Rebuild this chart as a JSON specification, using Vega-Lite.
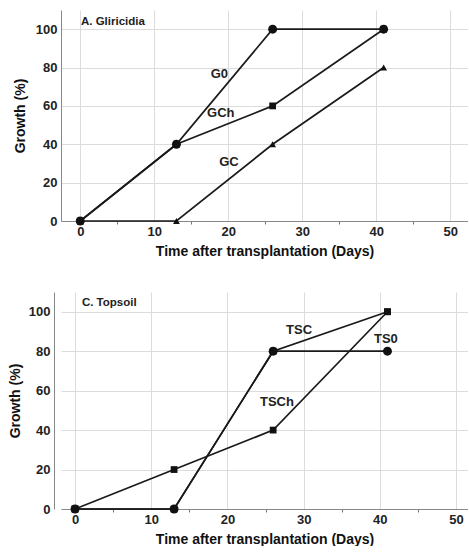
{
  "$schema": "https://vega.github.io/schema/vega-lite/v6.json",
  "padding": {"left": 8, "top": 10, "right": 0, "bottom": 0},
  "spacing": 34,
  "config": {
    "view": {"stroke": null},
    "font": "Liberation Sans",
    "axis": {
      "labelFontSize": 13, "labelFontWeight": "bold", "labelColor": "#222",
      "titleFontSize": 14, "titleFontWeight": "bold", "titleColor": "#111",
      "domainColor": "#888", "gridColor": "#dcdcdc", "tickColor": "#777",
      "tickSize": 3, "labelPadding": 1
    }
  },
  "datasets": {
    "gl": [
      {"series": "GCh", "day": 0, "growth": 0}, {"series": "GCh", "day": 13, "growth": 40}, {"series": "GCh", "day": 26, "growth": 60}, {"series": "GCh", "day": 41, "growth": 100},
      {"series": "GC", "day": 0, "growth": 0}, {"series": "GC", "day": 13, "growth": 0}, {"series": "GC", "day": 26, "growth": 40}, {"series": "GC", "day": 41, "growth": 80},
      {"series": "G0", "day": 0, "growth": 0}, {"series": "G0", "day": 13, "growth": 40}, {"series": "G0", "day": 26, "growth": 100}, {"series": "G0", "day": 41, "growth": 100}
    ],
    "glLabels": [
      {"text": "G0", "day": 18.8, "growth": 76.5},
      {"text": "GCh", "day": 19.0, "growth": 56.5},
      {"text": "GC", "day": 20.1, "growth": 30.5}
    ],
    "ts": [
      {"series": "TSC", "day": 0, "growth": 0}, {"series": "TSC", "day": 13, "growth": 0}, {"series": "TSC", "day": 26, "growth": 80}, {"series": "TSC", "day": 41, "growth": 100},
      {"series": "TSCh", "day": 0, "growth": 0}, {"series": "TSCh", "day": 13, "growth": 20}, {"series": "TSCh", "day": 26, "growth": 40}, {"series": "TSCh", "day": 41, "growth": 100},
      {"series": "TS0", "day": 0, "growth": 0}, {"series": "TS0", "day": 13, "growth": 0}, {"series": "TS0", "day": 26, "growth": 80}, {"series": "TS0", "day": 41, "growth": 80}
    ],
    "tsLabels": [
      {"text": "TSC", "day": 29.4, "growth": 90.7},
      {"text": "TS0", "day": 40.8, "growth": 86.1},
      {"text": "TSCh", "day": 26.5, "growth": 54}
    ]
  },
  "vconcat": [
    {
      "width": 407, "height": 211,
      "layer": [
        {
          "data": {"name": "gl"},
          "mark": {"type": "line", "color": "#1a1a1a", "strokeWidth": 1.7},
          "encoding": {
            "x": {"field": "day", "type": "quantitative", "scale": {"domain": [-2.6, 52.4], "nice": false},
              "axis": {"values": [0,5,10,15,20,25,30,35,40,45,50], "labelExpr": "datum.value % 10 == 0 ? datum.label : ''",
                "gridOpacity": {"condition": {"test": "datum.value % 10 != 0", "value": 0}, "value": 1},
                "tickOpacity": {"condition": {"test": "datum.value % 10 == 0", "value": 0}, "value": 1},
                "title": "Time after transplantation (Days)", "titlePadding": 6}},
            "y": {"field": "growth", "type": "quantitative", "scale": {"domain": [0, 110], "nice": false},
              "axis": {"values": [0,10,20,30,40,50,60,70,80,90,100], "labelExpr": "datum.value % 20 == 0 ? datum.label : ''",
                "gridOpacity": {"condition": {"test": "datum.value % 20 != 0", "value": 0}, "value": 1},
                "tickOpacity": {"condition": {"test": "datum.value % 20 == 0", "value": 0}, "value": 1},
                "title": "Growth (%)", "titlePadding": 8}},
            "detail": {"field": "series"}
          }
        },
        {
          "data": {"name": "gl"},
          "transform": [{"filter": {"field": "series", "oneOf": ["GCh", "GC"]}}],
          "mark": {"type": "point", "filled": true, "color": "#111", "opacity": 1, "size": 46},
          "encoding": {
            "x": {"field": "day", "type": "quantitative"},
            "y": {"field": "growth", "type": "quantitative"},
            "shape": {"field": "series", "scale": {"domain": ["GCh", "GC", "TSC", "TSCh"], "range": ["square", "triangle-up", "square", "square"]}, "legend": null}
          }
        },
        {
          "data": {"name": "gl"},
          "transform": [{"filter": {"field": "series", "equal": "G0"}}],
          "mark": {"type": "point", "filled": true, "color": "#111", "opacity": 1, "size": 80, "shape": "circle"},
          "encoding": {
            "x": {"field": "day", "type": "quantitative"},
            "y": {"field": "growth", "type": "quantitative"}
          }
        },
        {
          "data": {"name": "glLabels"},
          "mark": {"type": "text", "fontSize": 13, "fontWeight": "bold", "color": "#222"},
          "encoding": {
            "x": {"field": "day", "type": "quantitative"},
            "y": {"field": "growth", "type": "quantitative"},
            "text": {"field": "text"}
          }
        },
        {
          "data": {"values": [{"text": "A. Gliricidia", "day": 0.1, "growth": 103.5}]},
          "mark": {"type": "text", "fontSize": 11.5, "fontWeight": "bold", "color": "#222", "align": "left"},
          "encoding": {
            "x": {"field": "day", "type": "quantitative"},
            "y": {"field": "growth", "type": "quantitative"},
            "text": {"field": "text"}
          }
        }
      ]
    },
    {
      "width": 407, "height": 217,
      "layer": [
        {
          "data": {"name": "ts"},
          "mark": {"type": "line", "color": "#1a1a1a", "strokeWidth": 1.7},
          "encoding": {
            "x": {"field": "day", "type": "quantitative", "scale": {"domain": [-1.84, 51.57], "nice": false},
              "axis": {"values": [0,5,10,15,20,25,30,35,40,45,50], "labelExpr": "datum.value % 10 == 0 ? datum.label : ''",
                "gridOpacity": {"condition": {"test": "datum.value % 10 != 0", "value": 0}, "value": 1},
                "tickOpacity": {"condition": {"test": "datum.value % 10 == 0", "value": 0}, "value": 1},
                "title": "Time after transplantation (Days)", "titlePadding": 6}},
            "y": {"field": "growth", "type": "quantitative", "scale": {"domain": [0, 110], "nice": false},
              "axis": {"values": [0,10,20,30,40,50,60,70,80,90,100], "labelExpr": "datum.value % 20 == 0 ? datum.label : ''",
                "gridOpacity": {"condition": {"test": "datum.value % 20 != 0", "value": 0}, "value": 1},
                "tickOpacity": {"condition": {"test": "datum.value % 20 == 0", "value": 0}, "value": 1},
                "offset": 7,
                "title": "Growth (%)", "titlePadding": 6}},
            "detail": {"field": "series"}
          }
        },
        {
          "data": {"name": "ts"},
          "transform": [{"filter": {"field": "series", "oneOf": ["TSC", "TSCh"]}}],
          "mark": {"type": "point", "filled": true, "color": "#111", "opacity": 1, "size": 46},
          "encoding": {
            "x": {"field": "day", "type": "quantitative"},
            "y": {"field": "growth", "type": "quantitative"},
            "shape": {"field": "series"}
          }
        },
        {
          "data": {"name": "ts"},
          "transform": [{"filter": {"field": "series", "equal": "TS0"}}],
          "mark": {"type": "point", "filled": true, "color": "#111", "opacity": 1, "size": 80, "shape": "circle"},
          "encoding": {
            "x": {"field": "day", "type": "quantitative"},
            "y": {"field": "growth", "type": "quantitative"}
          }
        },
        {
          "data": {"name": "tsLabels"},
          "mark": {"type": "text", "fontSize": 13, "fontWeight": "bold", "color": "#222"},
          "encoding": {
            "x": {"field": "day", "type": "quantitative"},
            "y": {"field": "growth", "type": "quantitative"},
            "text": {"field": "text"}
          }
        },
        {
          "data": {"values": [{"text": "C. Topsoil", "day": 0.9, "growth": 104.4}]},
          "mark": {"type": "text", "fontSize": 11.5, "fontWeight": "bold", "color": "#222", "align": "left"},
          "encoding": {
            "x": {"field": "day", "type": "quantitative"},
            "y": {"field": "growth", "type": "quantitative"},
            "text": {"field": "text"}
          }
        }
      ]
    }
  ]
}
